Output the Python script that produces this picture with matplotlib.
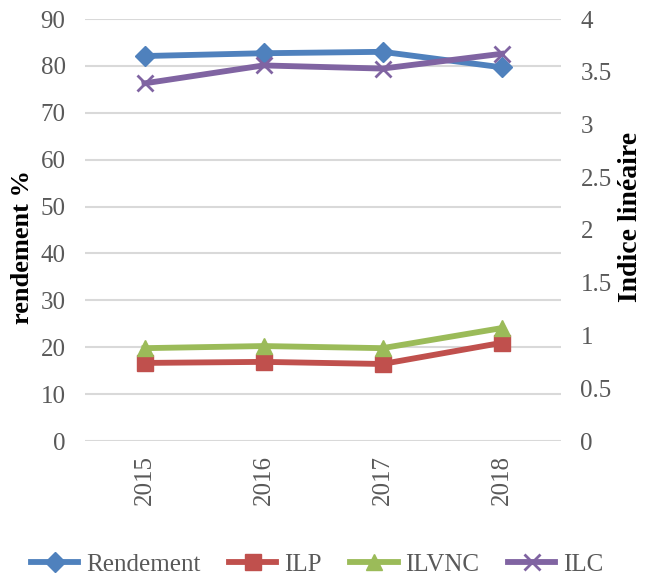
import matplotlib.pyplot as plt

years = ["2015", "2016", "2017", "2018"]
rendement = [82.1, 82.7, 83.0, 79.7]
ilp = [0.74, 0.75, 0.73, 0.93]
ilvnc = [0.88, 0.90, 0.88, 1.07]
ilc = [3.39, 3.56, 3.53, 3.67]

left_ticks = list(range(0, 91, 10))
right_ticks = [0, 0.5, 1, 1.5, 2, 2.5, 3, 3.5, 4]
right_labels = ["0", "0.5", "1", "1.5", "2", "2.5", "3", "3.5", "4"]

plt.rcParams['font.family'] = ['Liberation Serif', 'DejaVu Serif']
GRAY = "#595959"

fig = plt.figure(figsize=(6.47, 5.82), dpi=100)
ax = fig.add_axes([85 / 647, 1 - 441 / 582, 476 / 647, 422 / 582])
ax2 = ax.twinx()

x = range(len(years))
lw = 4.2

h1, = ax.plot(x, rendement, color="#4F81BD", lw=lw, marker="D", ms=10,
              label="Rendement")
h2, = ax2.plot(x, ilp, color="#C0504D", lw=lw, marker="s", ms=11, label="ILP")
h3, = ax2.plot(x, ilvnc, color="#9BBB59", lw=lw, marker="^", ms=12, label="ILVNC")
h4, = ax2.plot(x, ilc, color="#8064A2", lw=lw, marker="x", ms=12, mew=2,
               label="ILC")

ax.set_xlim(-0.5, 3.5)
ax.set_ylim(0, 90)
ax2.set_ylim(0, 4)
ax.set_yticks(left_ticks)
ax2.set_yticks(right_ticks)
ax2.set_yticklabels(right_labels)
ax.set_xticks(list(x))
ax.set_xticklabels(years, rotation=90)

ax.grid(axis="y", color="#D9D9D9", lw=1.5)
ax.set_axisbelow(True)
for a in (ax, ax2):
    for s in a.spines.values():
        s.set_visible(False)
    a.tick_params(length=0, labelsize=18, labelcolor=GRAY)
ax.tick_params(axis="y", pad=14)
ax2.tick_params(axis="y", pad=14)
ax.tick_params(axis="x", pad=10)

ax.set_ylabel("rendement %", fontsize=19, fontweight="bold", va="center")
ax.yaxis.set_label_coords(-0.132, 0.46)
ax2.set_ylabel("Indice linéaire", fontsize=20, fontweight="bold", va="center")
ax2.yaxis.set_label_coords(1.145, 0.53)

fig.legend(handles=[h1, h2, h3, h4], loc="lower center", ncol=4,
           bbox_to_anchor=(0.49, -0.028), frameon=False, fontsize=18,
           handlelength=1.9, columnspacing=1.15, handletextpad=0.3,
           labelcolor=GRAY)

fig.savefig("out.png", dpi=100)
